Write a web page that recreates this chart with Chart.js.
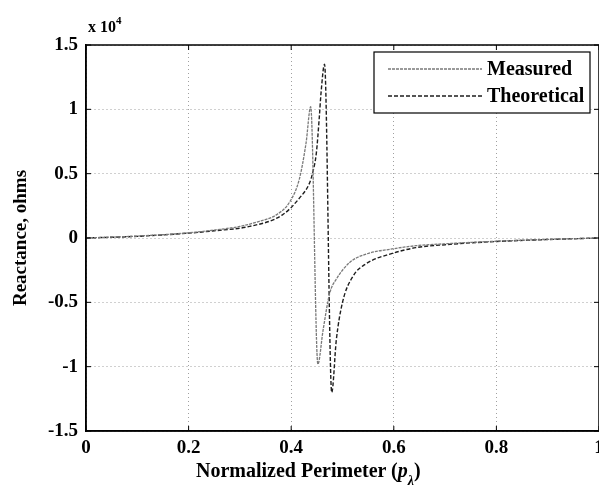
<!DOCTYPE html>
<html>
<head>
<meta charset="utf-8">
<script src="https://cdn.jsdelivr.net/npm/chart.js@4/dist/chart.umd.min.js"></script>
<style>
  body { margin: 0; background: #fff; }
  #wrap { position: relative; width: 599px; height: 497px; }
  .lbl { position: absolute; font-family: "Liberation Serif", serif; font-weight: bold; color: #000; white-space: nowrap; }
</style>
</head>
<body>
<div id="wrap">
  <canvas id="reactance" width="599" height="497"></canvas>
  <div class="lbl" style="left:88px; top:16px; font-size:16px;">x 10<sup style="font-size:11px; position:relative; top:-2px;">4</sup></div>
  <div class="lbl" style="left:196px; top:459px; font-size:20px;">Normalized Perimeter (<i>p</i><sub style="font-size:14px; position:relative; top:3px;"><i>λ</i></sub>)</div>
</div>
<script>
// measured curve (x = normalized perimeter, y = ohms)
const measuredX = [0, 0.1, 0.2, 0.25, 0.3, 0.338, 0.371, 0.397, 0.416, 0.429, 0.438, 0.452, 0.462, 0.475, 0.488, 0.514, 0.546, 0.597, 0.643, 0.7, 0.8, 0.9, 1.0];
const measuredY = [0, 150, 400, 620, 900, 1300, 1800, 2800, 4600, 7400, 10200, -9800, -7200, -4300, -3200, -1900, -1250, -850, -600, -450, -250, -110, 0];

// theoretical curve
const theoryX = [0, 0.1, 0.2, 0.25, 0.319, 0.383, 0.416, 0.436, 0.442, 0.449, 0.455, 0.458, 0.465, 0.479, 0.488, 0.5, 0.52, 0.546, 0.597, 0.643, 0.7, 0.8, 0.9, 1.0];
const theoryY = [0, 130, 380, 560, 900, 1800, 3100, 4300, 5100, 6600, 9500, 11200, 13500, -12000, -7900, -5000, -3000, -2000, -1200, -750, -520, -270, -120, 0];

const xTicks = [0, 0.2, 0.4, 0.6, 0.8, 1];
const yTicks = [-15000, -10000, -5000, 0, 5000, 10000, 15000];
const seriesNames = ['Measured', 'Theoretical'];

const toPoints = (xs, ys) => xs.map((x, i) => ({ x: x, y: ys[i] }));

// frame round the plot area, inward tick marks, and an in-plot legend box
const framePlugin = {
  id: 'frame',
  afterDraw(chart) {
    const ctx = chart.ctx;
    const a = chart.chartArea;
    const sx = chart.scales.x, sy = chart.scales.y;
    ctx.save();
    ctx.strokeStyle = '#000';
    ctx.lineWidth = 1.5;
    ctx.strokeRect(a.left, a.top, a.right - a.left, a.bottom - a.top);

    ctx.lineWidth = 1;
    ctx.beginPath();
    xTicks.forEach(v => {
      const px = sx.getPixelForValue(v);
      ctx.moveTo(px, a.bottom); ctx.lineTo(px, a.bottom - 5);
      ctx.moveTo(px, a.top); ctx.lineTo(px, a.top + 5);
    });
    yTicks.forEach(v => {
      const py = sy.getPixelForValue(v);
      ctx.moveTo(a.left, py); ctx.lineTo(a.left + 5, py);
      ctx.moveTo(a.right, py); ctx.lineTo(a.right - 5, py);
    });
    ctx.stroke();

    const bx = 374, by = 52, bw = 216, bh = 61;
    ctx.fillStyle = '#fff';
    ctx.fillRect(bx, by, bw, bh);
    ctx.lineWidth = 1.2;
    ctx.strokeRect(bx, by, bw, bh);
    ctx.font = 'bold 20px "Liberation Serif", serif';
    ctx.textBaseline = 'middle';
    chart.data.datasets.forEach((ds, i) => {
      const yy = by + 17 + i * 27;
      ctx.beginPath();
      ctx.setLineDash(ds.borderDash || []);
      ctx.strokeStyle = ds.borderColor;
      ctx.lineWidth = ds.borderWidth;
      ctx.moveTo(bx + 14, yy);
      ctx.lineTo(bx + 108, yy);
      ctx.stroke();
      ctx.setLineDash([]);
      ctx.fillStyle = '#000';
      ctx.fillText(ds.label, bx + 113, yy + 1);
    });
    ctx.restore();
  }
};

const ctx = document.getElementById('reactance').getContext('2d');
const chart = new Chart(ctx, {
  type: 'line',
  data: {
    datasets: [
      {
        label: seriesNames[0],
        data: toPoints(measuredX, measuredY),
        borderColor: '#7a7a7a',
        borderWidth: 1.3,
        borderDash: [3, 1],
        pointRadius: 0,
        cubicInterpolationMode: 'monotone'
      },
      {
        label: seriesNames[1],
        data: toPoints(theoryX, theoryY),
        borderColor: '#1e1e1e',
        borderWidth: 1.4,
        borderDash: [4, 2],
        pointRadius: 0,
        cubicInterpolationMode: 'monotone'
      }
    ]
  },
  options: {
    responsive: false,
    animation: false,
    layout: { padding: { top: 45, right: 0, left: 10, bottom: 0 } },
    plugins: {
      legend: { display: false },
      tooltip: { enabled: false }
    },
    scales: {
      x: {
        type: 'linear',
        min: 0,
        max: 1,
        afterBuildTicks: s => { s.ticks = xTicks.map(v => ({ value: v })); },
        afterFit: s => { s.height = 66; s.paddingRight = 0; s.paddingLeft = 0; },
        grid: { color: '#a0a0a0', lineWidth: 1, drawTicks: false },
        border: { color: '#000', width: 1.5, dash: [1, 3] },
        ticks: {
          padding: 6,
          color: '#000',
          font: { family: '"Liberation Serif", serif', weight: 'bold', size: 19 },
          callback: v => String(v)
        }
      },
      y: {
        min: -15000,
        max: 15000,
        afterBuildTicks: s => { s.ticks = yTicks.map(v => ({ value: v })); },
        afterFit: s => { s.width = 76; },
        grid: { color: '#a0a0a0', lineWidth: 1, drawTicks: false },
        border: { color: '#000', width: 1.5, dash: [1, 3] },
        title: {
          display: true,
          text: 'Reactance, ohms',
          color: '#000',
          padding: 0,
          font: { family: '"Liberation Serif", serif', weight: 'bold', size: 19 }
        },
        ticks: {
          padding: 8,
          color: '#000',
          font: { family: '"Liberation Serif", serif', weight: 'bold', size: 19 },
          callback: v => String(v / 10000)
        }
      }
    }
  },
  plugins: [framePlugin]
});
</script>
</body>
</html>
